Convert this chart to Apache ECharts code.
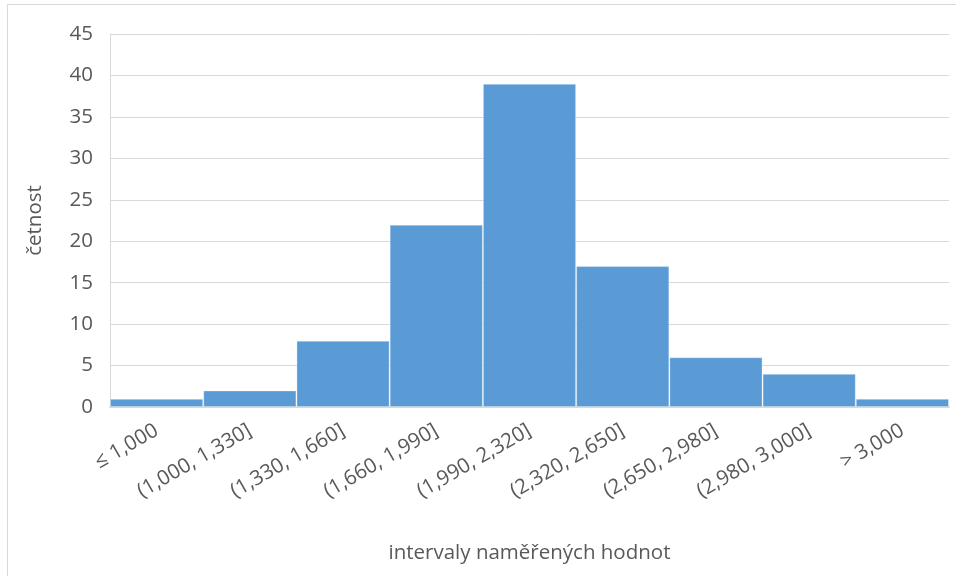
<!DOCTYPE html>
<html><head><meta charset="utf-8">
<script src="https://cdn.jsdelivr.net/npm/echarts@6/dist/echarts.min.js"></script>
<style>html,body{margin:0;padding:0;background:#fff}#c{width:956px;height:576px}</style>
</head><body><div id="c"></div>
<script>
const categories = ['≤ 1,000','(1,000, 1,330]','(1,330, 1,660]','(1,660, 1,990]','(1,990, 2,320]','(2,320, 2,650]','(2,650, 2,980]','(2,980, 3,000]','> 3,000'];
const counts = [1, 2, 8, 22, 39, 17, 6, 4, 1];
const yTicks = {min: 0, max: 45, interval: 5};
const font = '"Open Sans", sans-serif';
const chart = echarts.init(document.getElementById('c'));
chart.setOption({
  animation: false,
  graphic: [{type:'rect', shape:{x:7.5,y:4.5,width:960,height:600}, style:{fill:'none',stroke:'#d9d9d9',lineWidth:1}}],
  grid: {left: 110, right: 7, top: 34, bottom: 169},
  xAxis: {
    type: 'category', data: categories,
    name: 'intervaly naměřených hodnot', nameLocation: 'middle', nameGap: 136,
    nameTextStyle: {fontFamily: font, fontSize: 20.5, color: '#595959'},
    axisLine: {lineStyle: {color: '#d9d9d9', width: 2}},
    axisTick: {show: false},
    axisLabel: {rotate: 30, interval: 0, fontFamily: font, fontSize: 20.5, color: '#595959', margin: 22}
  },
  yAxis: {
    type: 'value', min: yTicks.min, max: yTicks.max, interval: yTicks.interval,
    name: 'četnost', nameLocation: 'middle', nameGap: 64, nameRotate: 90,
    nameTextStyle: {fontFamily: font, fontSize: 20.5, color: '#595959'},
    axisLine: {show: true, lineStyle: {color: '#d9d9d9'}},
    axisTick: {show: false},
    splitLine: {lineStyle: {color: '#d9d9d9'}},
    axisLabel: {fontFamily: font, fontSize: 20.5, color: '#595959', margin: 17}
  },
  series: [{
    type: 'bar', data: counts, barCategoryGap: '0%',
    itemStyle: {color: '#5b9bd5', borderColor: 'rgba(255,255,255,0.3)', borderWidth: 1}
  }]
});
</script></body></html>
